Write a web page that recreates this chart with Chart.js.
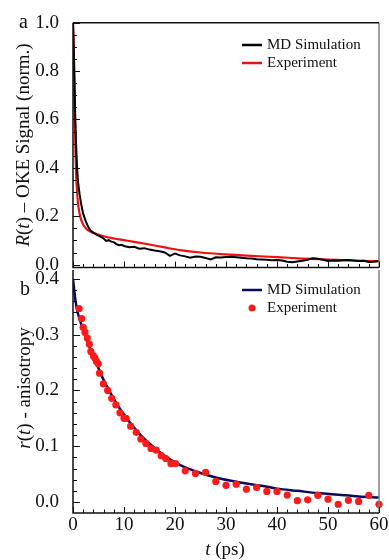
<!DOCTYPE html>
<html><head><meta charset="utf-8">
<script src="https://cdn.jsdelivr.net/npm/chart.js@4"></script>
<style>
html,body{margin:0;padding:0;background:#fff;}
#wrap{position:relative;width:389px;height:560px;overflow:hidden;background:#fff;}
canvas{position:absolute;left:0;}
</style></head><body>
<div id="wrap">
<canvas id="ca" width="389" height="285" style="top:0;width:389px;height:285px"></canvas>
<canvas id="cb" width="389" height="310" style="top:250px;width:389px;height:310px"></canvas>
</div>
<script>
// ---------- Panel a data ----------
const aTimeMD = [0,0.2,0.4,0.6,0.8,1.0,1.3,1.6,2.0,2.5,3.0,3.5,4.0,4.6,5.3,6.0,6.5,7.0,7.5,8.0,8.5,9.0,9.5,10,11,12,13,14,15,16,17,18,19,20,21,22,23,24,25,26,27,28,29,30,31,32,33,34,35,36,37,38,39,40,41,42,43,44,45,46,47,48,49,50,51,52,53,54,55,56,57,58,59,60];
const aMD = [1.0,0.85,0.65,0.5,0.4,0.34,0.29,0.25,0.21,0.18,0.155,0.14,0.132,0.124,0.117,0.108,0.098,0.101,0.095,0.093,0.085,0.08,0.082,0.077,0.072,0.074,0.066,0.068,0.062,0.058,0.055,0.05,0.036,0.046,0.038,0.034,0.028,0.033,0.032,0.027,0.021,0.03,0.029,0.031,0.032,0.03,0.028,0.026,0.025,0.022,0.021,0.02,0.018,0.019,0.017,0.012,0.01,0.013,0.016,0.02,0.026,0.024,0.02,0.015,0.017,0.016,0.018,0.019,0.017,0.015,0.016,0.011,0.012,0.015];
const aTimeExp = [0,0.15,0.3,0.45,0.6,0.8,1.0,1.3,1.6,2.0,2.5,3.3,4.5,6,8,10,12,15,18,21,25,30,35,40,45,50,55,60];
const aExp = [1.0,0.9,0.7,0.5,0.38,0.3,0.25,0.21,0.185,0.165,0.15,0.138,0.127,0.117,0.108,0.101,0.094,0.083,0.071,0.06,0.05,0.042,0.036,0.031,0.025,0.021,0.017,0.014];
const aYTicks = [0.0,0.2,0.4,0.6,0.8,1.0];
// ---------- Panel b data ----------
const bTimeMD = [0,0.5,1,1.5,2,3,4,5,6,7,8,9,10,12,14,16,18,20,22,25,28,31,34,37,40,44,48,52,56,60];
const bMD = [0.4,0.36,0.337,0.322,0.308,0.283,0.262,0.24,0.219,0.201,0.185,0.17,0.157,0.133,0.113,0.097,0.083,0.071,0.062,0.052,0.044,0.038,0.033,0.029,0.024,0.02,0.016,0.013,0.01,0.008];
const bTimeExp = [1.2,1.7,2.0,2.35,2.8,3.2,3.5,4.0,4.3,4.6,4.95,5.2,5.95,6.8,7.6,8.4,9.2,10.0,10.4,11.3,12.4,13.3,14.3,15.3,16.3,17.3,18.2,19.2,20.1,22,24,26,28,30,32,34,36,38,40,42,44,46,48,50,52,54,56,58,60];
const bExp = [0.347,0.329,0.313,0.304,0.294,0.283,0.270,0.262,0.258,0.252,0.248,0.231,0.212,0.200,0.186,0.174,0.160,0.150,0.150,0.136,0.125,0.113,0.105,0.096,0.093,0.083,0.078,0.069,0.069,0.056,0.051,0.053,0.037,0.030,0.032,0.023,0.026,0.019,0.019,0.0125,0.0024,0.004,0.012,0.005,-0.004,0.003,0.001,0.012,-0.004];
const bYTicks = [0.0,0.1,0.2,0.3,0.4];
const xTicks = [0,10,20,30,40,50,60];

const SERIF = '"Liberation Serif","DejaVu Serif",serif';
const pts = (xs, ys) => xs.map((x, i) => ({x: x, y: ys[i]}));

function richText(ctx, segs, cx, cy, rot, size) {
  ctx.save();
  ctx.translate(cx, cy);
  if (rot) ctx.rotate(rot);
  let total = 0;
  segs.forEach(s => { ctx.font = (s.it ? 'italic ' : '') + size + 'px ' + SERIF; total += ctx.measureText(s.t).width; });
  let x = -total / 2;
  ctx.textBaseline = 'middle'; ctx.textAlign = 'left'; ctx.fillStyle = '#111';
  segs.forEach(s => { ctx.font = (s.it ? 'italic ' : '') + size + 'px ' + SERIF; ctx.fillText(s.t, x, 0); x += ctx.measureText(s.t).width; });
  ctx.restore();
}

function frameTicks(chart, cfg) {
  const ctx = chart.ctx, a = chart.chartArea;
  const xs = chart.scales.x, ys = chart.scales.y;
  ctx.save();
  ctx.lineCap = 'butt';
  ctx.strokeStyle = '#808080'; ctx.lineWidth = 1.5;
  ctx.beginPath(); ctx.moveTo(a.right, a.top); ctx.lineTo(a.right, a.bottom); ctx.stroke();
  ctx.strokeStyle = '#111'; ctx.lineWidth = 1.5;
  if (cfg.top) { ctx.beginPath(); ctx.moveTo(a.left, a.top); ctx.lineTo(a.right, a.top); ctx.stroke(); }
  ctx.beginPath(); ctx.moveTo(a.left, a.top); ctx.lineTo(a.left, a.bottom); ctx.lineTo(a.right, a.bottom); ctx.stroke();
  ctx.lineWidth = 1;
  for (let v = 0; v <= 60; v += 2) {
    const px = Math.round(xs.getPixelForValue(v)) + 0.5;
    const len = (v % 10 === 0) ? 6 : 3.5;
    ctx.beginPath(); ctx.moveTo(px, a.bottom); ctx.lineTo(px, a.bottom - len); ctx.stroke();
  }
  const n = Math.round(cfg.yMax / cfg.minor);
  for (let i = 0; i <= n; i++) {
    const v = i * cfg.minor;
    const py = Math.round(ys.getPixelForValue(v)) + 0.5;
    const major = i % cfg.every === 0;
    ctx.beginPath(); ctx.moveTo(a.left, py); ctx.lineTo(a.left + (major ? 7 : 4), py); ctx.stroke();
  }
  ctx.restore();
}

const baseScaleX = (display) => ({
  type: 'linear', min: 0, max: 60, display: display,
  grid: {display: false}, border: {display: false},
  afterBuildTicks: s => { s.ticks = xTicks.map(v => ({value: v})); },
  ticks: {font: {family: SERIF, size: 19}, color: '#111', padding: -7, maxRotation: 0, callback: v => String(v)},
  afterFit: s => { s.height = display ? 30 : 0; s.paddingLeft = 0; s.paddingRight = 0; }
});

const plugA = {
  id: 'decorA',
  afterDraw(chart) {
    const ctx = chart.ctx;
    frameTicks(chart, {top: true, yMax: 1.0, minor: 0.05, every: 4});
    richText(ctx, [{t:'R', it:true},{t:'('},{t:'t', it:true},{t:') \u2013 OKE Signal (norm.)'}], 24, 145, -Math.PI/2, 19);
    ctx.save();
    ctx.fillStyle = '#111'; ctx.font = '20px ' + SERIF; ctx.textBaseline = 'alphabetic'; ctx.textAlign = 'left';
    ctx.fillText('a', 19, 28);
    ctx.font = '15px ' + SERIF; ctx.textBaseline = 'middle';
    ctx.lineWidth = 2.5;
    ctx.strokeStyle = '#000'; ctx.beginPath(); ctx.moveTo(242, 45); ctx.lineTo(262, 45); ctx.stroke();
    ctx.fillText('MD Simulation', 267, 45);
    ctx.strokeStyle = '#ee1111'; ctx.beginPath(); ctx.moveTo(242, 63); ctx.lineTo(262, 63); ctx.stroke();
    ctx.fillText('Experiment', 267, 63);
    ctx.restore();
  }
};

new Chart(document.getElementById('ca'), {
  type: 'scatter',
  data: {datasets: [
    {label: 'MD Simulation', data: pts(aTimeMD, aMD), showLine: true, borderColor: '#000', borderWidth: 2, pointRadius: 0, tension: 0},
    {label: 'Experiment', data: pts(aTimeExp, aExp), showLine: true, borderColor: '#ee1111', borderWidth: 2.2, pointRadius: 0, cubicInterpolationMode: 'monotone'}
  ]},
  options: {
    responsive: false, animation: false, devicePixelRatio: 1,
    layout: {padding: {left: 0, right: 10, top: 22.7, bottom: 17.5}},
    plugins: {legend: {display: false}, tooltip: {enabled: false}},
    scales: {
      x: baseScaleX(false),
      y: {type: 'linear', min: -0.012, max: 1.0, grid: {display: false}, border: {display: false},
          afterBuildTicks: s => { s.ticks = aYTicks.map(v => ({value: v})); },
          ticks: {font: {family: SERIF, size: 19}, color: '#111', padding: 6, callback: v => Number(v).toFixed(1)},
          afterFit: s => { s.width = 73; s.paddingTop = 0; s.paddingBottom = 0; }}
    }
  },
  plugins: [plugA]
});

const plugB = {
  id: 'decorB',
  afterDraw(chart) {
    const ctx = chart.ctx;
    frameTicks(chart, {top: false, yMax: 0.4, minor: 0.02, every: 5});
    richText(ctx, [{t:'r', it:true},{t:'('},{t:'t', it:true},{t:') - anisotropy'}], 25, 138, -Math.PI/2, 19);
    richText(ctx, [{t:'t', it:true},{t:' (ps)'}], 225, 300, 0, 19);
    ctx.save();
    ctx.fillStyle = '#111'; ctx.font = '20px ' + SERIF; ctx.textBaseline = 'alphabetic'; ctx.textAlign = 'left';
    ctx.fillText('b', 20, 45);
    ctx.font = '15px ' + SERIF; ctx.textBaseline = 'middle';
    ctx.lineWidth = 2.5;
    ctx.strokeStyle = '#0a0a5c'; ctx.beginPath(); ctx.moveTo(242, 40); ctx.lineTo(262, 40); ctx.stroke();
    ctx.fillText('MD Simulation', 267, 40);
    ctx.fillStyle = '#ff1a1a'; ctx.beginPath(); ctx.arc(252, 58, 3.5, 0, Math.PI*2); ctx.fill();
    ctx.fillStyle = '#111';
    ctx.fillText('Experiment', 267, 58);
    ctx.restore();
  }
};

new Chart(document.getElementById('cb'), {
  type: 'scatter',
  data: {datasets: [
    {label: 'Experiment', data: pts(bTimeExp, bExp), showLine: false, backgroundColor: '#ff1a1a', borderWidth: 0, pointRadius: 3.6, clip: false},
    {label: 'MD Simulation', data: pts(bTimeMD, bMD), showLine: true, borderColor: '#0a0a5c', borderWidth: 2.5, pointRadius: 0, cubicInterpolationMode: 'monotone'}
  ]},
  options: {
    responsive: false, animation: false, devicePixelRatio: 1,
    layout: {padding: {left: 0, right: 10, top: 20, bottom: 17}},
    plugins: {legend: {display: false}, tooltip: {enabled: false}},
    scales: {
      x: baseScaleX(true),
      y: {type: 'linear', min: -0.0197, max: 0.416, grid: {display: false}, border: {display: false},
          afterBuildTicks: s => { s.ticks = bYTicks.map(v => ({value: v})); },
          ticks: {font: {family: SERIF, size: 19}, color: '#111', padding: 6, callback: v => Number(v).toFixed(1)},
          afterFit: s => { s.width = 73; s.paddingTop = 0; s.paddingBottom = 0; }}
    }
  },
  plugins: [plugB]
});
</script>
</body></html>
